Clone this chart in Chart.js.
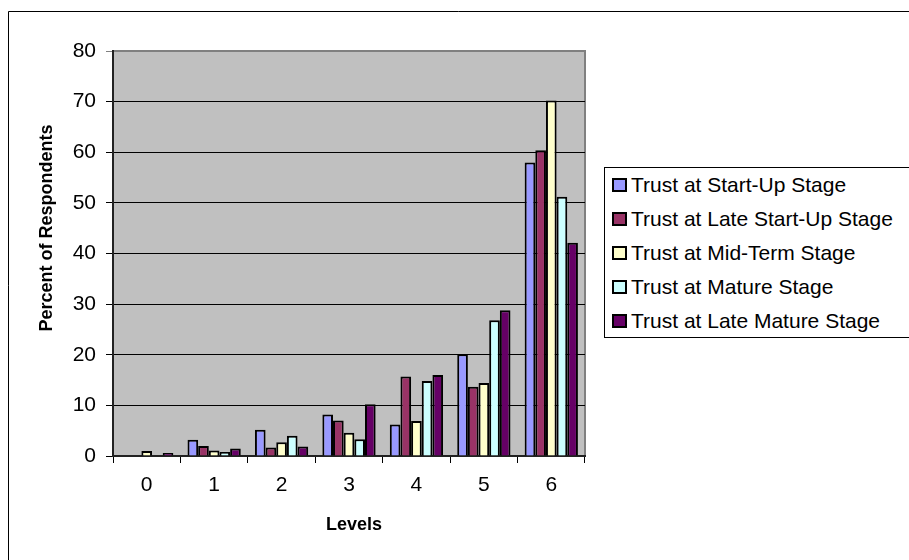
<!DOCTYPE html>
<html>
<head>
<meta charset="utf-8">
<script src="https://cdn.jsdelivr.net/npm/chart.js@4.4.1/dist/chart.umd.min.js"></script>
<style>
  html, body { margin: 0; padding: 0; background: #fff; overflow: hidden; }
  #wrap { position: relative; width: 909px; height: 560px; }
  #chart { position: absolute; left: 0; top: 0; }
  #legend {
    position: absolute; left: 604px; top: 167px; width: 400px; height: 169px;
    border: 1px solid #000; background: #fff;
    font-family: "Liberation Sans", Arial, sans-serif; font-size: 21px; color: #000;
  }
  .item { height: 34px; display: flex; align-items: center; white-space: nowrap; }
  .box { width: 11px; height: 10px; border: 2px solid #000; margin-left: 7px; margin-right: 4px; }
</style>
</head>
<body>
<div id="wrap">
  <canvas id="chart" width="909" height="560"></canvas>
  <div id="legend"></div>
</div>
<script>
// Datos
const niveles = ["0", "1", "2", "3", "4", "5", "6"];
const startUp = [0, 3.2, 5.2, 8.2, 6.2, 20.1, 58];
const lateStartUp = [0, 2, 1.7, 7, 15.7, 13.7, 60.4];
const midTerm = [1, 1.1, 2.7, 4.6, 6.9, 14.4, 70.2];
const mature = [0, 0.8, 4, 3.3, 14.8, 26.8, 51.2];
const lateMature = [0.6, 1.5, 1.9, 10.2, 16, 28.8, 42.1];

const nombres = ["Trust at Start-Up Stage", "Trust at Late Start-Up Stage", "Trust at Mid-Term Stage", "Trust at Mature Stage", "Trust at Late Mature Stage"];
const colores = ["#9999FF", "#993366", "#FFFFCC", "#CCFFFF", "#660066"];

const tituloY = "Percent of Respondents";
const tituloX = "Levels";
const fuente = '"Liberation Sans", Arial, sans-serif';

const series = [startUp, lateStartUp, midTerm, mature, lateMature];

// fondo gris del area del grafico, borde exterior y titulos de ejes
const marco = {
    id: "marco",
    beforeDraw(chart) {
        const { ctx, chartArea: a } = chart;
        ctx.save();
        ctx.fillStyle = "#C0C0C0";
        ctx.fillRect(a.left, a.top, a.right - a.left, a.bottom - a.top);
        ctx.strokeStyle = "#808080";
        ctx.lineWidth = 2;
        ctx.strokeRect(a.left, a.top, a.right - a.left, a.bottom - a.top);
        ctx.strokeStyle = "#000";
        ctx.lineWidth = 1;
        ctx.beginPath();
        ctx.moveTo(8.5, 560);
        ctx.lineTo(8.5, 11.5);
        ctx.lineTo(909, 11.5);
        ctx.stroke();
        ctx.restore();
    },
    afterDraw(chart) {
        const { ctx } = chart;
        ctx.save();
        ctx.fillStyle = "#000";
        ctx.font = "bold 18px " + fuente;
        ctx.textAlign = "center";
        ctx.textBaseline = "middle";
        ctx.fillText(tituloX, 354, 525);
        ctx.translate(47, 228);
        ctx.rotate(-Math.PI / 2);
        ctx.fillText(tituloY, 0, 0);
        ctx.restore();
    }
};

const chart = new Chart("chart", {
    type: "bar",
    data: {
        labels: niveles,
        datasets: series.map((d, i) => ({
            label: nombres[i],
            data: d,
            backgroundColor: colores[i],
            borderColor: "#000",
            borderWidth: 2,
            categoryPercentage: 0.79,
            barPercentage: 1
        }))
    },
    options: {
        responsive: false,
        animation: false,
        layout: { padding: { left: 0, top: 51, right: 324, bottom: 0 } },
        plugins: {
            legend: { display: false },
            tooltip: { enabled: false }
        },
        scales: {
            x: {
                afterFit: s => { s.height = 104; },
                grid: { drawOnChartArea: false, offset: true, tickLength: 7, color: "#000" },
                border: { display: true, color: "#222", width: 2 },
                ticks: { color: "#000", font: { family: fuente, size: 21 }, padding: 10 }
            },
            y: {
                min: 0,
                max: 80,
                afterFit: s => { s.width = 113; },
                grid: {
                    color: c => (c.tick && c.tick.value === 80 ? "#808080" : "#000"),
                    lineWidth: 1,
                    tickLength: 7
                },
                border: { display: true, color: "#222", width: 2 },
                ticks: { stepSize: 10, color: "#000", font: { family: fuente, size: 21 }, padding: 10 }
            }
        }
    },
    plugins: [marco]
});

// leyenda con recuadro a la derecha
const leyenda = document.getElementById("legend");
chart.data.datasets.forEach(ds => {
    const fila = document.createElement("div");
    fila.className = "item";
    const caja = document.createElement("span");
    caja.className = "box";
    caja.style.background = ds.backgroundColor;
    const txt = document.createElement("span");
    txt.textContent = ds.label;
    fila.appendChild(caja);
    fila.appendChild(txt);
    leyenda.appendChild(fila);
});
</script>
</body>
</html>
